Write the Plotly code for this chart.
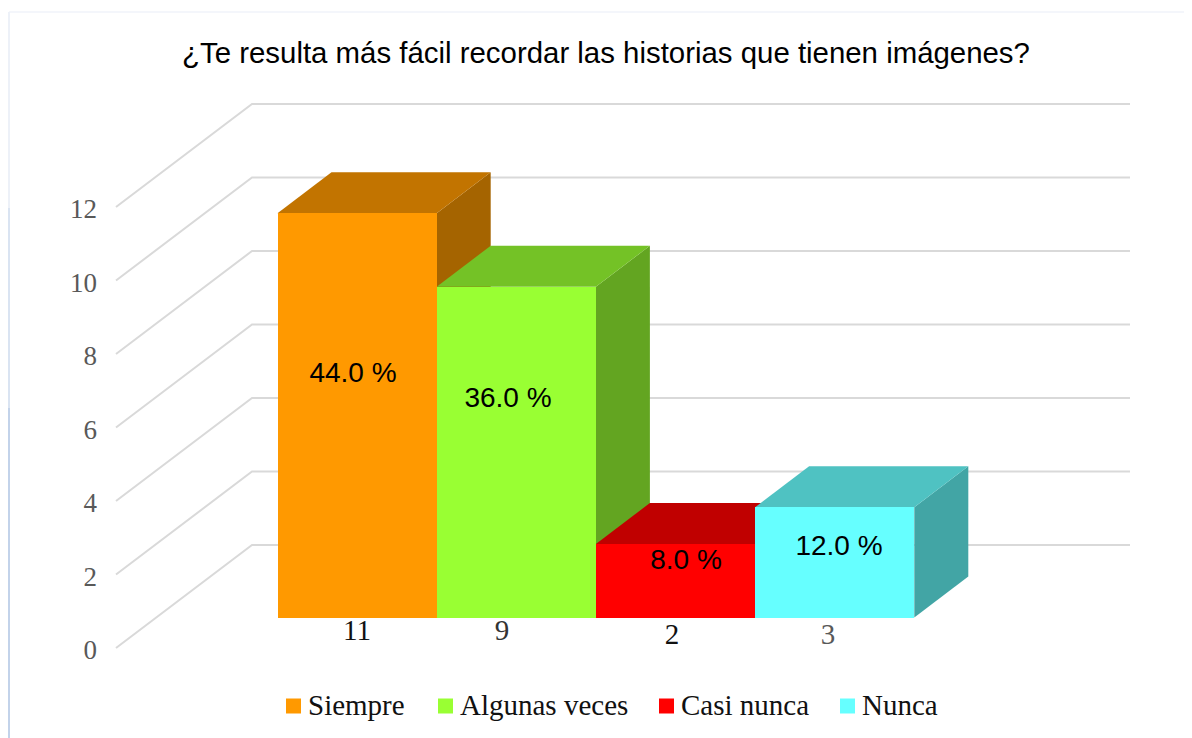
import plotly.graph_objects as go

# ---- data ----
TITLE = "¿Te resulta más fácil recordar las historias que tienen imágenes?"
categories = ["Siempre", "Algunas veces", "Casi nunca", "Nunca"]
counts = [11, 9, 2, 3]
percent_labels = ["44.0 %", "36.0 %", "8.0 %", "12.0 %"]
y_ticks = [0, 2, 4, 6, 8, 10, 12]

# ---- colours ----
front_colors = ["#FF9900", "#99FF33", "#FF0000", "#66FFFF"]
top_colors = ["#C27400", "#74C226", "#C00000", "#4FC2C2"]
side_colors = ["#A56400", "#63A521", "#A60000", "#42A5A5"]
count_colors = ["#111111", "#333333", "#111111", "#595959"]

# ---- layout geometry (page pixels; the page body adds an 8 px margin) ----
PAGE_MARGIN = 8
W, H = 1192 - PAGE_MARGIN, 738 - PAGE_MARGIN
PX_X, PX_Y = 159.2, 36.75
BAR_LEFT_PX = 277.5 - PAGE_MARGIN
AXIS_ZERO_PX = 648.0 - PAGE_MARGIN   # value 0 on the front edge of the wall
BAR_ZERO_PX = 617.5 - PAGE_MARGIN    # value 0 on the front of the bars
WALL_FRONT_X = (116 - PAGE_MARGIN - BAR_LEFT_PX) / PX_X - 0.5
WALL_BACK_X = (252 - PAGE_MARGIN - BAR_LEFT_PX) / PX_X - 0.5
WALL_END_X = (1130 - PAGE_MARGIN - BAR_LEFT_PX) / PX_X - 0.5
WALL_RISE = 103 / PX_Y
BAR_LIFT = (AXIS_ZERO_PX - BAR_ZERO_PX) / PX_Y
BAR_DX = 54 / PX_X
BAR_DY = 41 / PX_Y

x_low = -0.5 - BAR_LEFT_PX / PX_X
x_range = [x_low, x_low + W / PX_X]
y_range = [-(H - AXIS_ZERO_PX) / PX_Y, AXIS_ZERO_PX / PX_Y]
y2_range = [-(H - BAR_ZERO_PX) / PX_Y, BAR_ZERO_PX / PX_Y]

TEXT_NUDGE_PX = 2  # middle-anchored text sits slightly high in the browser


def page_x(px):
    return (px - PAGE_MARGIN - BAR_LEFT_PX) / PX_X - 0.5


def page_y(px):
    return (BAR_ZERO_PX - (px + TEXT_NUDGE_PX - PAGE_MARGIN)) / PX_Y


# printed label centres (page pixels)
pct_x_px = [353, 508, 686, 839]
pct_y_px = [373, 398, 560, 546]
count_x_px = [357, 502, 672, 828]
count_y_px = [631, 631, 635, 635]
legend_swatch_px = [293.5, 445.5, 666.5, 847.5]
legend_text_px = [308, 460, 681, 862]
LEGEND_Y_PX = 706

fig = go.Figure()

# wall and floor grid
gx, gy = [], []
for v in y_ticks:
    gx += [WALL_FRONT_X, WALL_BACK_X, WALL_END_X, None]
    gy += [v, v + WALL_RISE, v + WALL_RISE, None]
fig.add_trace(go.Scatter(x=gx, y=gy, mode="lines", showlegend=False, hoverinfo="skip",
                         line=dict(color="#D9D9D9", width=2)))

# side and top faces of each bar
for i, v in enumerate(counts):
    l, r = i - 0.5, i + 0.5
    b = BAR_LIFT
    fig.add_trace(go.Scatter(
        x=[r, r + BAR_DX, r + BAR_DX, r, r],
        y=[b, b + BAR_DY, b + v + BAR_DY, b + v, b],
        fill="toself", fillcolor=side_colors[i], mode="lines",
        line=dict(width=0), showlegend=False, hoverinfo="skip"))
    fig.add_trace(go.Scatter(
        x=[l, l + BAR_DX, r + BAR_DX, r, l],
        y=[b + v, b + v + BAR_DY, b + v + BAR_DY, b + v, b + v],
        fill="toself", fillcolor=top_colors[i], mode="lines",
        line=dict(width=0), showlegend=False, hoverinfo="skip"))

# front faces, on an overlaying axis pair so that they cover the faces behind
for i, name in enumerate(categories):
    fig.add_trace(go.Bar(x=[i], y=[counts[i]], width=1, name=name, xaxis="x2", yaxis="y2",
                         showlegend=False,
                         marker=dict(color=front_colors[i], line=dict(width=0)),
                         hoverinfo="name+y"))

# percentage labels
fig.add_trace(go.Scatter(
    x=[page_x(p) for p in pct_x_px], y=[page_y(p) for p in pct_y_px], text=percent_labels,
    mode="text", textposition="middle center", xaxis="x2", yaxis="y2", showlegend=False,
    hoverinfo="skip", textfont=dict(family="Liberation Sans", size=28, color="#000000")))

# counts under the bars
fig.add_trace(go.Scatter(
    x=[page_x(p) for p in count_x_px], y=[page_y(p) for p in count_y_px],
    text=[str(c) for c in counts],
    mode="text", textposition="middle center", xaxis="x2", yaxis="y2", showlegend=False,
    hoverinfo="skip", textfont=dict(family="Liberation Serif", size=29, color=count_colors)))

# legend row
fig.add_trace(go.Scatter(
    x=[page_x(p) for p in legend_swatch_px],
    y=[page_y(LEGEND_Y_PX - TEXT_NUDGE_PX)] * 4,
    mode="markers", xaxis="x2", yaxis="y2", showlegend=False, hoverinfo="skip",
    marker=dict(symbol="square", size=15, color=front_colors, line=dict(width=0))))
fig.add_trace(go.Scatter(
    x=[page_x(p) for p in legend_text_px], y=[page_y(LEGEND_Y_PX)] * 4, text=categories,
    mode="text", textposition="middle right", xaxis="x2", yaxis="y2", showlegend=False,
    hoverinfo="skip", textfont=dict(family="Liberation Serif", size=29, color="#111111")))

fig.update_layout(
    width=W, height=H, autosize=False,
    margin=dict(l=0, r=0, t=0, b=0),
    paper_bgcolor="#FFFFFF", plot_bgcolor="rgba(0,0,0,0)",
    barmode="overlay", bargap=0, showlegend=False,
    title=dict(text=TITLE, x=(606 - PAGE_MARGIN) / W, y=1 - (53 - PAGE_MARGIN) / H,
               xanchor="center", yanchor="middle",
               font=dict(family="Liberation Sans", size=29.4, color="#000000")),
    xaxis=dict(range=x_range, visible=False, fixedrange=True),
    xaxis2=dict(range=x_range, visible=False, overlaying="x", fixedrange=True),
    yaxis=dict(range=y_range, tickvals=y_ticks, showgrid=False, zeroline=False, showline=False,
               ticks="", anchor="free", position=(97 - PAGE_MARGIN) / W, fixedrange=True,
               ticklabelshift=2,
               tickfont=dict(family="Liberation Serif", size=27, color="#595959")),
    yaxis2=dict(range=y2_range, visible=False, overlaying="y", fixedrange=True),
    shapes=[
        dict(type="line", xref="paper", yref="paper", x0=1 / W, x1=1, y0=1 - 4 / H, y1=1 - 4 / H,
             line=dict(color="#F1F3FA", width=1.5)),
        dict(type="line", xref="paper", yref="paper", x0=1 / W, x1=1 / W, y0=1 - 4 / H, y1=1 - 200 / H,
             line=dict(color="#EDF1F8", width=2)),
        dict(type="line", xref="paper", yref="paper", x0=1 / W, x1=1 / W, y0=1 - 200 / H, y1=1 - 400 / H,
             line=dict(color="#DAE4F2", width=2)),
        dict(type="line", xref="paper", yref="paper", x0=1 / W, x1=1 / W, y0=1 - 400 / H, y1=0,
             line=dict(color="#C3D3EA", width=2)),
    ],
)

fig.write_html("out.html")
